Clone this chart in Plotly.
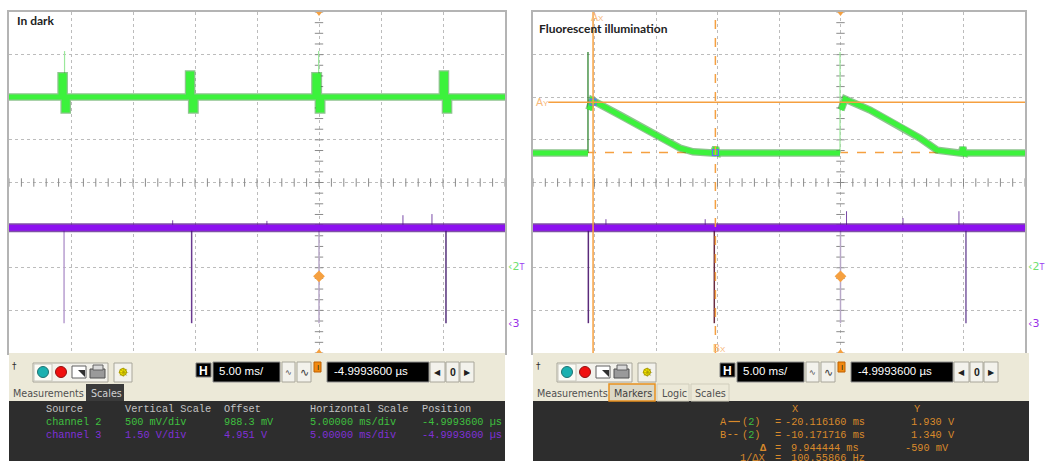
import numpy as np
import plotly.graph_objects as go

W, H = 1048, 461

# ---------------- scope settings ----------------
T_RANGE = [-25.0, 15.0]          # 8 div x 5 ms/div, trigger at div 5
T_DIV = 5.0
CH2_OFFSET, CH2_DIV = 0.9883, 0.5  # V, V/div
CH3_OFFSET, CH3_DIV = 4.951, 1.5
N_VDIV = 8

# ---------------- "In dark" capture ----------------
# channel 2 (photodiode) vertices, ms / V
dark_ch2_t = [-25, -20.80, -20.80, -20.55, -20.55, -20.30, -20.30,
              -10.52, -10.52, -10.27, -10.27, -10.00, -10.00,
              -0.33, -0.33, -0.05, -0.05, 0.22, 0.22,
              9.95, 9.95, 10.20, 10.20, 10.45, 10.45, 15]
dark_ch2_v = [1.99, 1.99, 2.24, 2.24, 1.84, 1.84, 1.99,
              1.99, 2.26, 2.26, 1.84, 1.84, 1.99,
              1.99, 2.24, 2.24, 1.84, 1.84, 1.99,
              1.99, 2.26, 2.26, 1.84, 1.84, 1.99, 1.99]
dark_ch2_spike_t = [-20.52, -0.03]
dark_ch2_spike_v = [2.53, 2.53]

# channel 3 (sync) baseline, drop-outs to 0 V and glitches
dark_ch3_t = [-25, 15]
dark_ch3_v = [3.356, 3.356]
dark_ch3_drop_t = [-20.56, -10.27, 0.0, 10.24]
dark_ch3_drop_v = [0.0, 0.0, 0.0, 0.0]
dark_ch3_glitch_t = [-11.8, -4.2, 6.77, 9.11]
dark_ch3_glitch_v = [3.62, 3.60, 3.80, 3.84]

# ---------------- "Fluorescent illumination" capture ----------------
# None separates the flat baseline from the decaying pulse after each edge
fl_ch2_t = [-25, -20.53, None, -20.45, -20.35, -20.20, -17.93, -15.24, -13.05,
            -11.99, -11.0, -10.35, -10.15, -10.0, -9.85, -0.04,
            None, 0.04, 0.15, 0.37, 2.40, 5.08, 6.46, 7.85, 8.66,
            9.60, 9.80, 9.95, 10.10, 10.25, 15]
fl_ch2_v = [1.333, 1.333, None, 1.84, 1.87, 1.955, 1.779, 1.568, 1.392,
            1.349, 1.333, 1.333, 1.40, 1.31, 1.333, 1.333,
            None, 1.84, 1.87, 1.967, 1.838, 1.627, 1.509, 1.368, 1.345,
            1.333, 1.333, 1.40, 1.31, 1.333, 1.333]
fl_ch2_spike_t = [-20.53, -0.04]
fl_ch2_spike_v = [2.52, 2.52]

fl_ch3_t = [-25, 15]
fl_ch3_v = [3.356, 3.356]
fl_ch3_drop_t = [-20.50, -10.26, 0.0, 10.20]
fl_ch3_drop_v = [0.0, 0.0, 0.0, 0.0]
fl_ch3_glitch_t = [-19.07, -11.0, 0.49, 5.08, 9.63]
fl_ch3_glitch_v = [3.66, 3.66, 3.94, 3.70, 3.94]

# markers A / B
mark_ax, mark_bx = -20.116160, -10.171716   # ms
mark_ay, mark_by = 1.930, 1.340             # V

# trigger level (channel 3)
trig_level = 1.65

# ---------------- styling ----------------
GREEN = "#3cf23c"
GREEN_EDGE = "#1f8a1f"
PURPLE = "#8c10f0"
PURPLE_EDGE = "#4a0a80"
ORANGE = "#f5a040"
GRID = "#bcbcbc"
FRAME = "#b4b4b4"
drop_colors_dark = ["#b89ed0", "#6a3a90", "#b8a8c8", "#55307a"]
drop_colors_fl = ["#5a2a7a", "#6a2a40", "#b8a8c8", "#7a5aa0"]
ch2_spike_colors_dark = ["#9be89b", "#9be89b"]
ch2_spike_colors_fl = ["#1f7a1f", "#9be89b"]

ch2_range = [CH2_OFFSET - CH2_DIV * N_VDIV / 2, CH2_OFFSET + CH2_DIV * N_VDIV / 2]
ch3_range = [CH3_OFFSET - CH3_DIV * N_VDIV / 2, CH3_OFFSET + CH3_DIV * N_VDIV / 2]


def xp(px):
    return px / W


def yp(py):
    return 1 - py / H


fig = go.Figure()


def add_panel(xa, ya_g, ya_p, g_t, g_v, g_sp_t, g_sp_v, g_sp_base, g_sp_cols,
              p_t, p_v, d_t, d_v, d_cols, gl_t, gl_v):
    # center axes minor ticks
    tick_v = np.arange(ch2_range[0], ch2_range[1] + 1e-9, CH2_DIV / 4)
    fig.add_trace(go.Scatter(x=[0.0] * len(tick_v), y=tick_v, mode="markers",
                             xaxis=xa, yaxis=ya_g, hoverinfo="skip", showlegend=False,
                             marker=dict(symbol="line-ew", size=6,
                                         line=dict(color="#8a8a8a", width=1))))
    tick_t = np.arange(T_RANGE[0], T_RANGE[1] + 1e-9, T_DIV / 5)
    fig.add_trace(go.Scatter(x=tick_t, y=[CH2_OFFSET] * len(tick_t), mode="markers",
                             xaxis=xa, yaxis=ya_g, hoverinfo="skip", showlegend=False,
                             marker=dict(symbol="line-ns", size=6,
                                         line=dict(color="#8a8a8a", width=1))))
    # channel 3 drop-outs
    for t, v, c in zip(d_t, d_v, d_cols):
        fig.add_trace(go.Scatter(x=[t, t], y=[p_v[0], v], mode="lines",
                                 xaxis=xa, yaxis=ya_p, hoverinfo="skip", showlegend=False,
                                 line=dict(color=c, width=1.5)))
    # channel 3 glitches
    gx, gy = [], []
    for t, v in zip(gl_t, gl_v):
        gx += [t, t, None]
        gy += [p_v[0], v, None]
    fig.add_trace(go.Scatter(x=gx, y=gy, mode="lines", xaxis=xa, yaxis=ya_p,
                             hoverinfo="skip", showlegend=False,
                             line=dict(color="#7a4aa8", width=1)))
    # channel 3 band
    fig.add_trace(go.Scatter(x=p_t, y=p_v, mode="lines", xaxis=xa, yaxis=ya_p,
                             hoverinfo="skip", showlegend=False, opacity=0.7,
                             line=dict(color=PURPLE_EDGE, width=9)))
    fig.add_trace(go.Scatter(x=p_t, y=p_v, mode="lines", xaxis=xa, yaxis=ya_p,
                             hoverinfo="skip", showlegend=False,
                             line=dict(color=PURPLE, width=6)))
    # channel 2 spikes
    for t, v, b, c in zip(g_sp_t, g_sp_v, g_sp_base, g_sp_cols):
        fig.add_trace(go.Scatter(x=[t, t], y=[b, v], mode="lines",
                                 xaxis=xa, yaxis=ya_g, hoverinfo="skip", showlegend=False,
                                 line=dict(color=c, width=1.2)))
    # channel 2 band
    fig.add_trace(go.Scatter(x=g_t, y=g_v, mode="lines", xaxis=xa, yaxis=ya_g,
                             hoverinfo="skip", showlegend=False, opacity=0.5,
                             line=dict(color=GREEN_EDGE, width=7.5)))
    fig.add_trace(go.Scatter(x=g_t, y=g_v, mode="lines", xaxis=xa, yaxis=ya_g,
                             hoverinfo="skip", showlegend=False,
                             line=dict(color=GREEN, width=5)))
    # trigger position / level markers
    fig.add_trace(go.Scatter(x=[0, 0], y=[ch2_range[1], ch2_range[0]], mode="markers",
                             xaxis=xa, yaxis=ya_g, hoverinfo="skip", showlegend=False,
                             cliponaxis=False,
                             marker=dict(symbol=["triangle-down", "triangle-up"], size=8,
                                         color=ORANGE)))
    fig.add_trace(go.Scatter(x=[0], y=[trig_level], mode="markers",
                             xaxis=xa, yaxis=ya_p, hoverinfo="skip", showlegend=False,
                             marker=dict(symbol="diamond", size=9, color=ORANGE)))


add_panel("x", "y", "y2", dark_ch2_t, dark_ch2_v, dark_ch2_spike_t, dark_ch2_spike_v,
          [2.24, 2.24], ch2_spike_colors_dark,
          dark_ch3_t, dark_ch3_v, dark_ch3_drop_t, dark_ch3_drop_v,
          drop_colors_dark, dark_ch3_glitch_t, dark_ch3_glitch_v)
add_panel("x2", "y3", "y4", fl_ch2_t, fl_ch2_v, fl_ch2_spike_t, fl_ch2_spike_v,
          [fl_ch2_v[0], fl_ch2_v[0]], ch2_spike_colors_fl,
          fl_ch3_t, fl_ch3_v, fl_ch3_drop_t, fl_ch3_drop_v,
          drop_colors_fl, fl_ch3_glitch_t, fl_ch3_glitch_v)

# cursor intersections
fig.add_trace(go.Scatter(x=[mark_ax, mark_bx], y=[mark_ay, mark_by], mode="markers",
                         xaxis="x2", yaxis="y3", hoverinfo="skip", showlegend=False,
                         marker=dict(symbol="square-open", size=6,
                                     line=dict(color="#b86010", width=1.2))))

# ---------------- axes ----------------
grid_common = dict(showticklabels=False, ticks="", zeroline=False, showgrid=True,
                   gridcolor=GRID, griddash="dot", gridwidth=1,
                   showline=True, mirror=True, linecolor=FRAME, linewidth=2)
ydom = [yp(353), yp(12)]
fig.update_layout(
    width=W, height=H, margin=dict(l=0, r=0, t=0, b=0),
    paper_bgcolor="white", plot_bgcolor="white", showlegend=False,
    xaxis=dict(domain=[xp(9), xp(505)], range=T_RANGE, tick0=T_RANGE[0], dtick=T_DIV,
               anchor="y", **grid_common),
    yaxis=dict(domain=ydom, range=ch2_range, tick0=CH2_OFFSET, dtick=CH2_DIV,
               anchor="x", **grid_common),
    yaxis2=dict(range=ch3_range, overlaying="y", anchor="x", visible=False),
    xaxis2=dict(domain=[xp(533), xp(1025)], range=T_RANGE, tick0=T_RANGE[0], dtick=T_DIV,
                anchor="y3", **grid_common),
    yaxis3=dict(domain=ydom, range=ch2_range, tick0=CH2_OFFSET, dtick=CH2_DIV,
                anchor="x2", **grid_common),
    yaxis4=dict(range=ch3_range, overlaying="y3", anchor="x2", visible=False),
)

shapes = []
annotations = []

# marker cursors (A solid, B dashed)
shapes.append(dict(type="line", xref="x2", yref="y3 domain", x0=mark_ax, x1=mark_ax,
                   y0=0, y1=1, line=dict(color=ORANGE, width=1.5), layer="above"))
shapes.append(dict(type="line", xref="x2", yref="y3 domain", x0=mark_bx, x1=mark_bx,
                   y0=0, y1=1, line=dict(color=ORANGE, width=1.5, dash="dash"), layer="above"))
shapes.append(dict(type="line", xref="x2 domain", yref="y3", x0=0.031, x1=1,
                   y0=mark_ay, y1=mark_ay, line=dict(color=ORANGE, width=1.5), layer="above"))
shapes.append(dict(type="line", xref="x2 domain", yref="y3", x0=0, x1=1,
                   y0=mark_by, y1=mark_by, line=dict(color=ORANGE, width=1.5, dash="dash"),
                   layer="below"))

CUR_TXT = "#f8b878"
annotations.append(dict(xref="x2", yref="y3 domain", x=mark_ax, y=1, yshift=-5,
                        yanchor="middle", xshift=4,
                        text="A<span style='font-size:8px'>X</span>", showarrow=False,
                        font=dict(family="Liberation Sans", size=10.5, color=CUR_TXT)))
annotations.append(dict(xref="x2", yref="y3 domain", x=mark_bx, y=0, yshift=5,
                        yanchor="middle", xshift=4,
                        text="B<span style='font-size:8px'>X</span>", showarrow=False,
                        font=dict(family="Liberation Sans", size=10.5, color=CUR_TXT)))
annotations.append(dict(xref="x2 domain", yref="y3", x=0, y=mark_ay, xanchor="left",
                        xshift=1, text="A<span style='font-size:8px'>Y</span>",
                        showarrow=False,
                        font=dict(family="Liberation Sans", size=10.5, color=CUR_TXT)))

# captions
annotations.append(dict(xref="paper", yref="paper", x=xp(15), y=yp(21), xanchor="left",
                        yanchor="middle", text="<b>In dark</b>", showarrow=False,
                        font=dict(family="Lato", size=12, color="#222222")))
annotations.append(dict(xref="paper", yref="paper", x=xp(537), y=yp(28.5), xanchor="left",
                        yanchor="middle", text="<b>Fluorescent illumination</b>",
                        showarrow=False,
                        font=dict(family="Lato", size=12, color="#222222")))

# channel ground references
for xa, ya_g, ya_p in (("x", "y", "y2"), ("x2", "y3", "y4")):
    annotations.append(dict(xref=f"{xa} domain", yref=ya_g, x=1, y=0, xanchor="left",
                            xshift=1, showarrow=False,
                            text="<span style='color:#70e070'>‹2</span>"
                                 "<span style='color:#9a40f0;font-size:8px'>T</span>",
                            font=dict(family="DejaVu Sans", size=11)))
    annotations.append(dict(xref=f"{xa} domain", yref=ya_p, x=1, y=0, xanchor="left",
                            xshift=1, showarrow=False, text="‹3",
                            font=dict(family="DejaVu Sans", size=11, color="#9a30e8")))

# ---------------- instrument chrome under each display ----------------
BEIGE = "#ece9d8"
DARK = "#2d2d2d"
BTN = "#f3f2ec"
BTN_LINE = "#a8a69a"


def rect(x0, y0, x1, y1, fill, line=None, lw=1):
    shapes.append(dict(type="rect", xref="paper", yref="paper",
                       x0=xp(x0), x1=xp(x1), y0=yp(y1), y1=yp(y0), fillcolor=fill,
                       line=dict(color=line if line else fill, width=lw if line else 0),
                       layer="above"))


def hline(x0, x1, y, color, dash="solid"):
    shapes.append(dict(type="line", xref="paper", yref="paper",
                       x0=xp(x0), x1=xp(x1), y0=yp(y), y1=yp(y),
                       line=dict(color=color, width=1.2, dash=dash), layer="above"))


def circ(cx, cy, r, fill, line):
    shapes.append(dict(type="circle", xref="paper", yref="paper",
                       x0=xp(cx - r), x1=xp(cx + r), y0=yp(cy + r), y1=yp(cy - r),
                       fillcolor=fill, line=dict(color=line, width=1), layer="above"))


def text(x, y, s, color, size=10.25, family="Liberation Mono", anchor="left"):
    annotations.append(dict(xref="paper", yref="paper", x=xp(x), y=yp(y), xanchor=anchor,
                            yanchor="middle", text=s, showarrow=False,
                            font=dict(family=family, size=size, color=color)))


def toolbar(L):
    o = L - 9
    rect(9 + o, 353, 505 + o, 401, BEIGE)
    rect(9 + o, 401, 505 + o, 461, DARK)
    text(10 + o, 366, "†", "#303030", 9, "DejaVu Sans")
    # colour / capture buttons
    rect(33 + o, 363, 108 + o, 382, BTN, BTN_LINE)
    rect(34 + o, 364, 52 + o, 381, "#fbfbf6", "#c8c6ba")
    circ(43 + o, 372, 5.5, "#1ab0b0", "#207070")
    circ(61 + o, 372, 5.5, "#f01010", "#901010")
    rect(72 + o, 366, 86 + o, 378, "#ffffff", "#606060")
    shapes.append(dict(type="path", xref="paper", yref="paper", layer="above",
                       path=f"M {xp(78 + o)},{yp(370)} L {xp(85 + o)},{yp(370)} "
                            f"L {xp(85 + o)},{yp(377)} Z",
                       fillcolor="#303030", line=dict(width=0)))
    rect(90 + o, 369, 105 + o, 378, "#9a9a9a", "#505050")
    rect(93 + o, 365, 103 + o, 370, "#d8d8d8", "#606060")
    rect(114 + o, 363, 132 + o, 382, BTN, BTN_LINE)
    text(123 + o, 372, "✳", "#b0a000", 13, "DejaVu Sans", "center")
    circ(123 + o, 372, 3.5, "#f8f000", "#a09000")
    # horizontal controls
    rect(196 + o, 363, 211 + o, 377, "#000000", "#808080")
    text(203.5 + o, 370.5, "<b>H</b>", "#ffffff", 12, "Liberation Sans", "center")
    rect(213 + o, 362, 280 + o, 382, "#000000", "#909090")
    text(217 + o, 371, "5.00 ms/", "#ffffff", 11.5, "Liberation Sans")
    rect(282 + o, 362, 295 + o, 382, BTN, BTN_LINE)
    text(288.5 + o, 372, "∿", "#404040", 8, "DejaVu Sans", "center")
    rect(297 + o, 362, 311 + o, 382, BTN, BTN_LINE)
    text(304 + o, 372, "∿", "#404040", 11, "DejaVu Sans", "center")
    rect(314 + o, 362, 321 + o, 372, "#f08a10", "#c06000")
    text(317.5 + o, 367, "ı", "#202020", 8, "DejaVu Sans", "center")
    rect(327 + o, 362, 429 + o, 382, "#000000", "#909090")
    text(332 + o, 371, "-4.9993600 µs", "#ffffff", 11.5, "Liberation Sans")
    rect(430 + o, 362, 445 + o, 382, BTN, BTN_LINE)
    text(437.5 + o, 372, "◀", "#202020", 8, "DejaVu Sans", "center")
    rect(446 + o, 362, 459 + o, 382, BTN, BTN_LINE)
    text(452.5 + o, 372, "<b>0</b>", "#202020", 10.5, "Liberation Sans", "center")
    rect(460 + o, 362, 474 + o, 382, BTN, BTN_LINE)
    text(467 + o, 372, "▶", "#202020", 8, "DejaVu Sans", "center")


toolbar(9)
toolbar(533)

TAB_TXT = "#505050"
UI = "DejaVu Sans"
# left tabs
text(11, 393, "Measurements", TAB_TXT, 9.6, UI)
rect(86, 384, 124, 401, "#3a3a3a")
text(89, 393, "Scales", "#d0d0d0", 9.6, UI)
# right tabs
text(535, 393, "Measurements", TAB_TXT, 9.6, UI)
rect(609, 384, 655, 401, "#dcd8c6", "#e8901e", 1.5)
text(612, 393, "Markers", "#404040", 9.6, UI)
rect(657, 384, 689, 401, BEIGE, "#d0cdbc")
text(660, 393, "Logic", TAB_TXT, 9.6, UI)
rect(691, 384, 729, 401, BEIGE, "#d0cdbc")
text(693, 393, "Scales", TAB_TXT, 9.6, UI)

# scales table (left)
HDR = "#c4c4c4"
C2 = "#3fc03f"
C3 = "#8030d8"
col_x = [44, 123, 222, 308, 420]
hdr = ["Source", "Vertical Scale", "Offset", "Horizontal Scale", "Position"]
row2 = ["channel 2", "500 mV/div", "988.3 mV", "5.00000 ms/div", "-4.9993600 µs"]
row3 = ["channel 3", "1.50 V/div", "4.951 V", "5.00000 ms/div", "-4.9993600 µs"]
for x, a, b, c in zip(col_x, hdr, row2, row3):
    text(x, 409, a, HDR)
    text(x, 421.5, b, C2)
    text(x, 434.5, c, C3)

# markers table (right)
MK = "#d98a2b"
text(790, 409, "X", MK)
text(912, 409, "Y", MK)
text(718, 421.5, "A", MK)
hline(728.5, 740, 421.5, MK)
text(718, 434.5, "B", MK)
hline(728.5, 740, 434.5, MK, "dot")
for yy in (421.5, 434.5):
    text(740, yy, f"(<span style='color:{C2}'>2</span>)", MK)
    text(773, yy, "=", MK)
text(783, 421.5, f"{mark_ax:.6f} ms", MK)
text(909, 421.5, f"{mark_ay:.3f} V", MK)
text(783, 434.5, f"{mark_bx:.6f} ms", MK)
text(909, 434.5, f"{mark_by:.3f} V", MK)
text(758, 447.5, "<b>Δ</b>", MK)
text(773, 447.5, "=", MK)
text(789, 447.5, f"{mark_bx - mark_ax:.6f} ms", MK)
text(903, 447.5, f"{round((mark_by - mark_ay) * 1000):d} mV", MK)
text(738, 457.5, "1/ΔX", MK)
text(773, 457.5, "=", MK)
text(789, 457.5, f"{1000 / (mark_bx - mark_ax):.5f} Hz", MK)

fig.update_layout(shapes=shapes, annotations=annotations)
fig.write_html("out.html")
